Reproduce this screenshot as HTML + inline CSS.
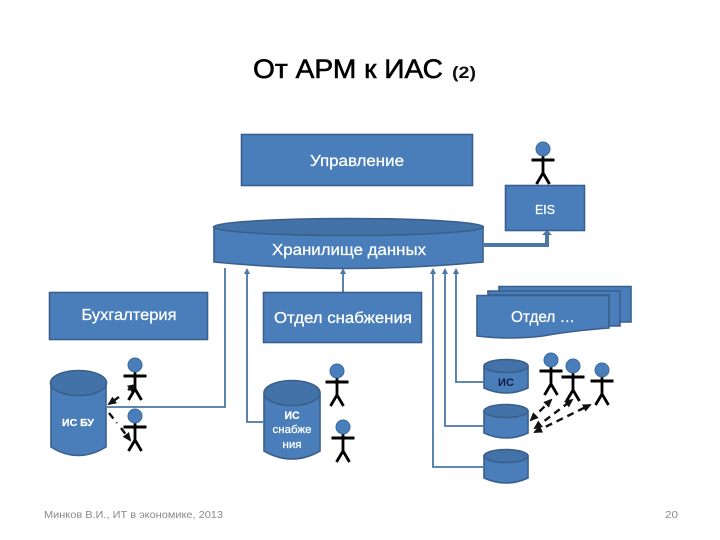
<!DOCTYPE html>
<html><head><meta charset="utf-8">
<style>
html,body{margin:0;padding:0;background:#fff;width:720px;height:540px;overflow:hidden}
svg{display:block}
text{font-family:"Liberation Sans",sans-serif}
.w{fill:#fff;text-anchor:middle;stroke:#fff;stroke-width:.25}
</style></head>
<body>
<svg width="720" height="540" viewBox="0 0 720 540" xmlns="http://www.w3.org/2000/svg">
<defs>
<marker id="a" markerWidth="6" markerHeight="6" refX="3" refY="3" orient="auto" markerUnits="userSpaceOnUse"><path d="M0 0L6 3L0 6z" fill="#4a76a8"/></marker>
<marker id="k" markerWidth="9" markerHeight="8" refX="7" refY="4" orient="auto-start-reverse" markerUnits="userSpaceOnUse"><path d="M0 0L9 4L0 8z" fill="#111"/></marker>
<g id="p" stroke="#000" fill="none">
<path d="M-11.500 11H11.500" stroke-width="3"/>
<path d="M0 6V24M0 24L-6.500 35M0 24L6.500 35" stroke-width="2.800"/>
<circle cx="0" cy="0" r="7" fill="#4a7ebb" stroke="#3a6a9f" stroke-width="1"/>
</g>
</defs>

<text x="253" y="78" font-size="27" textLength="190" lengthAdjust="spacingAndGlyphs" fill="#000" stroke="#000" stroke-width=".6">От АРМ к ИАС</text>
<text x="452" y="78" font-size="17" textLength="24" lengthAdjust="spacingAndGlyphs" font-weight="bold" fill="#111">(2)</text>

<!-- connectors -->
<g fill="none" stroke="#4a76a8" stroke-width="1.800">
<path d="M107 407H225V268"/>
<path d="M263 422H247V271" marker-end="url(#a)"/>
<path d="M343 292V271" marker-end="url(#a)"/>
<path d="M483 467H433V271" marker-end="url(#a)"/>
<path d="M483 426H445V271" marker-end="url(#a)"/>
<path d="M483 382H456V271" marker-end="url(#a)"/>
</g>
<path d="M484 245H547V234" fill="none" stroke="#4a76a8" stroke-width="4"/>
<path d="M542 235L547 230L552 235z" fill="#4a76a8"/>

<!-- top boxes -->
<rect x="241.500" y="134.500" width="231" height="51" fill="#4a7ebb" stroke="#3a5f8c" stroke-width="1.600"/>
<text class="w" x="357" y="166" font-size="15.500" textLength="94" lengthAdjust="spacingAndGlyphs">Управление</text>
<rect x="505.500" y="185.500" width="79" height="45" fill="#4a7ebb" stroke="#3a5f8c" stroke-width="1.600"/>
<text class="w" x="545" y="214" font-size="13" textLength="20" lengthAdjust="spacingAndGlyphs">EIS</text>
<use href="#p" x="543" y="149"/>

<!-- warehouse -->
<path d="M214 227V262Q348 275 483 262V227z" fill="#4a7ebb" stroke="#3a5f8c" stroke-width="1.600"/>
<ellipse cx="348.500" cy="227" rx="135" ry="8.500" fill="#4272a8" stroke="#3a5f8c" stroke-width="1.600"/>
<text class="w" x="349" y="255" font-size="15.500" textLength="154" lengthAdjust="spacingAndGlyphs">Хранилище данных</text>

<!-- departments -->
<rect x="49.500" y="292.500" width="158" height="47" fill="#4a7ebb" stroke="#3a5f8c" stroke-width="1.600"/>
<text class="w" x="129" y="320" font-size="15.500" textLength="95" lengthAdjust="spacingAndGlyphs">Бухгалтерия</text>
<rect x="263.500" y="292.500" width="158" height="50" fill="#4a7ebb" stroke="#3a5f8c" stroke-width="1.600"/>
<text class="w" x="343" y="323" font-size="15.500" textLength="138" lengthAdjust="spacingAndGlyphs">Отдел снабжения</text>

<g stroke="#3a5f8c" stroke-width="1.600" fill="#4a7ebb">
<path d="M499 286.500H631V322H610V300H499z"/>
<path d="M488 291H620V326H609V295H488z"/>
<path d="M477 295.500H609V328Q570 331 543 336Q510 340 477 336z"/>
</g>
<text class="w" x="543" y="322" font-size="15.500" textLength="64" lengthAdjust="spacingAndGlyphs">Отдел …</text>

<!-- cylinders -->
<g stroke="#3a5f8c" stroke-width="1.600" fill="#4a7ebb">
<path d="M51 386V447Q78 464 106 447V386z"/>
<ellipse cx="78.500" cy="383" rx="28" ry="12.500" fill="#4272a8"/>
<path d="M264 394V451Q292 467 320 451V394z"/>
<ellipse cx="292" cy="393" rx="28" ry="12.500" fill="#4272a8"/>
<path d="M484 366V388Q506 398 528 388V366z"/>
<ellipse cx="506" cy="366" rx="22" ry="6.500" fill="#4272a8"/>
<path d="M484 411V433Q506 443 528 433V411z"/>
<ellipse cx="506" cy="411" rx="22" ry="6.500" fill="#4272a8"/>
<path d="M484 456V478Q506 488 528 478V456z"/>
<ellipse cx="506" cy="456" rx="22" ry="6.500" fill="#4272a8"/>
</g>
<text class="w" x="78" y="426" font-size="10.500" font-weight="bold" textLength="32" lengthAdjust="spacingAndGlyphs">ИС  БУ</text>
<text class="w" x="292" y="419" font-size="11" font-weight="bold" textLength="15" lengthAdjust="spacingAndGlyphs">ИС</text>
<text class="w" x="292" y="433" font-size="11" textLength="39" lengthAdjust="spacingAndGlyphs">снабже</text>
<text class="w" x="292" y="448" font-size="11" textLength="19" lengthAdjust="spacingAndGlyphs">ния</text>
<text x="498" y="386" font-size="11" font-weight="bold" fill="#0d1f3c" textLength="16" lengthAdjust="spacingAndGlyphs">ИС</text>

<!-- people -->
<use href="#p" x="135" y="365"/>
<use href="#p" x="135" y="416"/>
<use href="#p" x="337" y="371"/>
<use href="#p" x="343" y="427"/>
<use href="#p" x="551" y="360"/>
<use href="#p" x="573" y="366"/>
<use href="#p" x="602" y="370"/>

<!-- dashed arrows -->
<g fill="none" stroke="#111" stroke-width="2.400" stroke-dasharray="7 5">
<path d="M119 397L109 404" marker-end="url(#k)"/>
<path d="M128 390L135 385" marker-end="url(#k)"/>
<path d="M109 413L117 423"/>
<path d="M121 428L130 440" marker-end="url(#k)"/>
<path d="M531 420L551 400" marker-start="url(#k)" marker-end="url(#k)"/>
<path d="M535 428L572 400" marker-start="url(#k)" marker-end="url(#k)"/>
<path d="M535 432L590 405" marker-start="url(#k)" marker-end="url(#k)"/>
</g>

<text x="44" y="518" font-size="10.500" fill="#8a8a8a" textLength="179" lengthAdjust="spacingAndGlyphs">Минков В.И., ИТ в экономике, 2013</text>
<text x="665" y="518" font-size="10.500" fill="#8a8a8a" textLength="13" lengthAdjust="spacingAndGlyphs">20</text>
</svg>
</body></html>
